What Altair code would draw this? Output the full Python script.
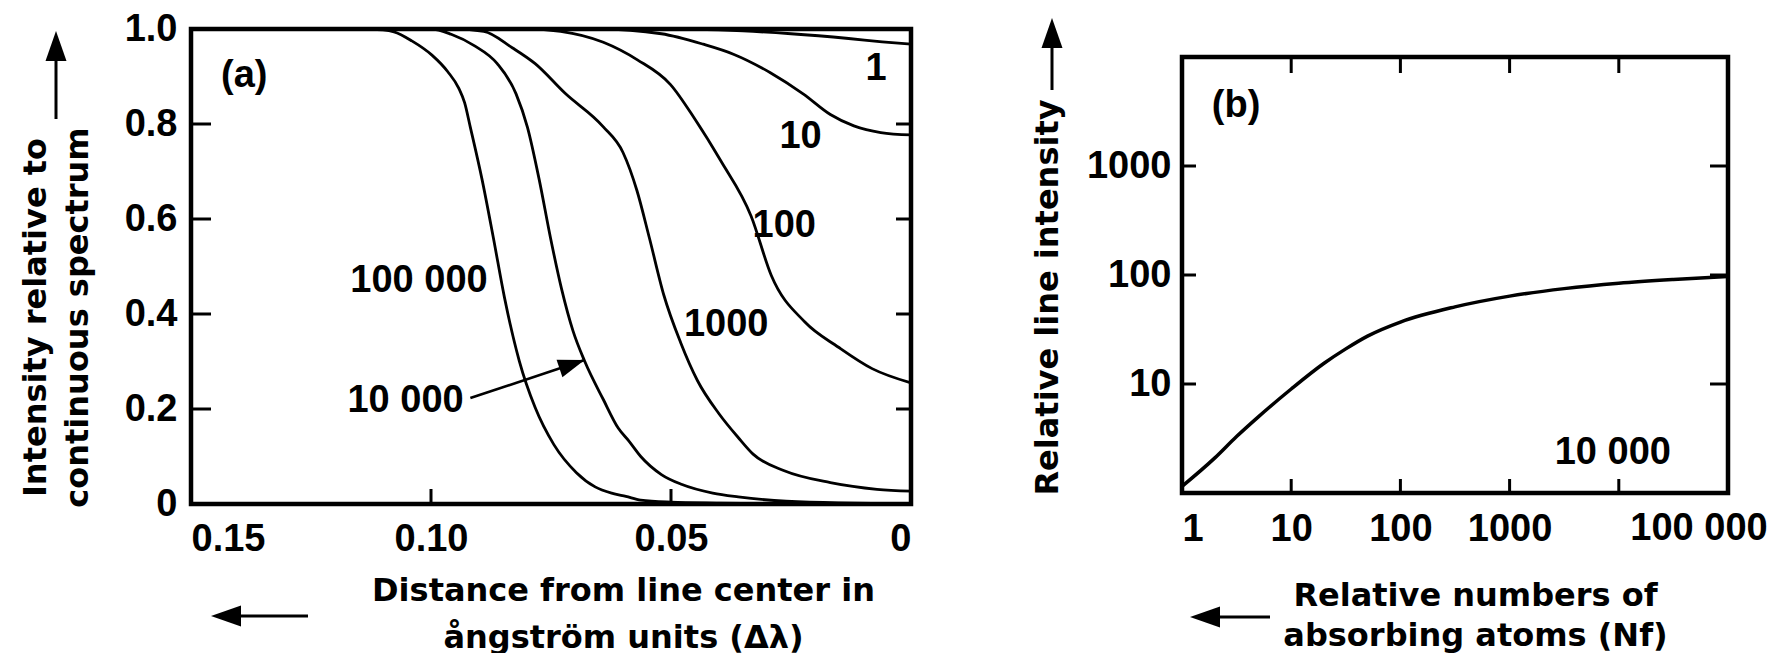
import altair as alt
import pandas as pd

# ---------------- data: panel (a) ----------------
dl_1 = [0.150, 0.060, 0.045, 0.035, 0.025, 0.013, 0.006, 0.0]
in_1 = [1.0, 1.0, 0.999, 0.996, 0.99, 0.98, 0.973, 0.968]

dl_10 = [0.150, 0.065, 0.052, 0.0433, 0.037, 0.0293, 0.0224, 0.0168, 0.0119, 0.0063, 0.0]
in_10 = [1.0, 1.0, 0.99, 0.968, 0.947, 0.908, 0.863, 0.820, 0.796, 0.782, 0.777]

dl_100 = [0.150, 0.080, 0.073, 0.0641, 0.057, 0.0501, 0.045, 0.0396, 0.0333, 0.0291, 0.0221, 0.0151, 0.0081, 0.0]
in_100 = [1.0, 1.0, 0.995, 0.972, 0.935, 0.883, 0.81, 0.722, 0.606, 0.481, 0.383, 0.330, 0.285, 0.255]

dl_1000 = [0.150, 0.095, 0.089, 0.083, 0.0783, 0.072, 0.0641, 0.060, 0.0571, 0.0545, 0.0515, 0.048,
           0.0445, 0.040, 0.036, 0.0329, 0.0264, 0.0168, 0.0071, 0.0]
in_1000 = [1.0, 1.0, 0.995, 0.96, 0.927, 0.864, 0.794, 0.74, 0.66, 0.56, 0.44, 0.34,
           0.26, 0.19, 0.14, 0.105, 0.07, 0.045, 0.031, 0.027]

dl_10000 = [0.150, 0.100, 0.0958, 0.0910, 0.0862, 0.0823, 0.0799, 0.0775, 0.0751, 0.0728, 0.0704,
            0.0680, 0.0641, 0.0610, 0.0588, 0.0563, 0.0520, 0.0477, 0.0413, 0.0360, 0.0260, 0.0]
in_10000 = [1.0, 1.0, 0.989, 0.965, 0.927, 0.864, 0.793, 0.685, 0.56, 0.453, 0.364,
            0.301, 0.22, 0.16, 0.133, 0.10, 0.062, 0.041, 0.023, 0.015, 0.006, 0.0]

dl_100000 = [0.150, 0.115, 0.110, 0.1077, 0.1040, 0.0998, 0.0965, 0.0942, 0.0930, 0.0918, 0.0894,
             0.0870, 0.0847, 0.0816, 0.0783, 0.0744, 0.0697, 0.0658, 0.0620, 0.0594, 0.0563,
             0.050, 0.040, 0.020, 0.0]
in_100000 = [1.0, 1.0, 0.998, 0.994, 0.975, 0.945, 0.91, 0.875, 0.845, 0.793, 0.685,
             0.56, 0.435, 0.301, 0.203, 0.125, 0.066, 0.036, 0.022, 0.016, 0.008,
             0.004, 0.002, 0.0, 0.0]

a_curve_names = ["1", "10", "100", "1000", "10000", "100000"]
a_curve_x = [dl_1, dl_10, dl_100, dl_1000, dl_10000, dl_100000]
a_curve_y = [in_1, in_10, in_100, in_1000, in_10000, in_100000]

a_label_text = ["(a)", "1", "10", "100", "1000", "100 000", "10 000"]
a_label_x = [0.1389, 0.0073, 0.0230, 0.0264, 0.0385, 0.1025, 0.1053]
a_label_y = [0.901, 0.916, 0.773, 0.586, 0.377, 0.469, 0.217]

a_arrow_from = (0.0918, 0.223)
a_arrow_to = (0.0680, 0.303)

a_x_domain = [0.0, 0.15]
a_y_domain = [0.0, 1.0]
a_x_ticks = [0.15, 0.10, 0.05, 0.0]
a_y_ticks = [0.0, 0.2, 0.4, 0.6, 0.8, 1.0]
a_inner_y_ticks = [0.2, 0.4, 0.6, 0.8]
a_inner_x_ticks = [0.10, 0.05]

# ---------------- data: panel (b) ----------------
b_nf = [1, 2, 3.16, 5, 10, 20, 31.6, 50, 100, 316, 1000, 3162, 10000, 31623, 100000]
b_int = [1.15, 2.1, 3.3, 5.0, 9.0, 15.5, 21, 27.5, 37, 51, 64, 75, 84, 91, 97]

b_label_text = ["(b)", "10 000"]
b_label_x = [3.13, 8810]
b_label_y = [3550, 2.33]

b_x_domain = [1, 100000]
b_y_domain = [1, 10000]
b_x_ticks = [1, 10, 100, 1000]
b_x_last_tick = [100000]
b_x_last_label = ["100 000"]
b_y_ticks = [10, 100, 1000]
b_inner_x_ticks = [10, 100, 1000, 10000]
b_inner_y_ticks = [10, 100, 1000]

# ---------------- style ----------------
W_A, H_A = 720, 475
W_B, H_B = 546, 436
B_DROP = 28                       # panel (b) frame starts this many px below panel (a)'s
H_B_AREA = H_B + B_DROP
B_Y_TOP = 10 ** (4 + B_DROP / (H_B / 4))   # scale top so that 1..10000 fills the frame
LABEL_FONT = "Liberation Sans"
TITLE_FONT = "DejaVu Sans"
LSIZE = 38
HEAD = "M0,0L0.7,2L-0.7,2Z"
FRAME_W = 4.5

# ---------------- panel (a) ----------------
rows = []
for name, xs, ys in zip(a_curve_names, a_curve_x, a_curve_y):
    for xv, yv in zip(xs, ys):
        rows.append({"x": xv, "y": yv, "curve": name})
df_a = pd.DataFrame(rows)

axis_xa = alt.Axis(values=a_x_ticks,
                   labelExpr="datum.value == 0 ? '0' : format(datum.value, '.2f')",
                   title=["Distance from line center in", "ångström units (Δλ)"],
                   titleX=432, titleY=86, titleAlign="center", titleBaseline="middle",
                   titleLineHeight=47, labelPadding=16, ticks=False, tickSize=0,
                   domain=False, grid=False)
axis_ya = alt.Axis(values=a_y_ticks,
                   labelExpr="datum.value == 0 ? '0' : format(datum.value, '.1f')",
                   title=["Intensity relative to", "continuous spectrum"],
                   titleX=-156, titleY=288, titleAngle=270, titleAlign="center",
                   titleBaseline="middle", titleLineHeight=42, labelPadding=14,
                   ticks=False, tickSize=0, domain=False, grid=False)

xa = alt.X("x:Q", scale=alt.Scale(domain=a_x_domain, reverse=True, nice=False, zero=False), axis=axis_xa)
ya = alt.Y("y:Q", scale=alt.Scale(domain=a_y_domain, nice=False), axis=axis_ya)

frame_a = alt.Chart(pd.DataFrame({"x": [a_x_domain[1]], "x2": [a_x_domain[0]],
                                  "y": [a_y_domain[0]], "y2": [a_y_domain[1]]})).mark_rect(
    fill="transparent", stroke="black", strokeWidth=FRAME_W).encode(x=xa, x2="x2:Q", y=ya, y2="y2:Q")

lines_a = alt.Chart(df_a).mark_line(color="black", strokeWidth=2.8, interpolate="monotone").encode(
    x=xa, y=ya, detail="curve:N")

labels_a = alt.Chart(pd.DataFrame({"x": a_label_x, "y": a_label_y, "t": a_label_text})).mark_text(
    font=LABEL_FONT, fontWeight="bold", fontSize=LSIZE, align="center", baseline="middle",
    color="black").encode(x=xa, y=ya, text="t:N")

arrow_a = alt.Chart(pd.DataFrame({"x": [a_arrow_from[0]], "y": [a_arrow_from[1]],
                                  "x2": [a_arrow_to[0]], "y2": [a_arrow_to[1]]})).mark_rule(
    color="black", strokeWidth=2.6).encode(x=xa, y=ya, x2="x2:Q", y2="y2:Q")
arrow_a_head = alt.Chart(pd.DataFrame({"x": [a_arrow_to[0]], "y": [a_arrow_to[1]]})).mark_point(
    shape=HEAD, filled=True, size=700, angle=71.6, color="black", opacity=1).encode(x=xa, y=ya)

tick_left_a = alt.Chart(pd.DataFrame({"y": a_inner_y_ticks})).mark_rule(color="black", strokeWidth=3).encode(
    y=ya, x=alt.value(0), x2=alt.value(20))
tick_right_a = alt.Chart(pd.DataFrame({"y": a_inner_y_ticks})).mark_rule(color="black", strokeWidth=3).encode(
    y=ya, x=alt.value(W_A), x2=alt.value(W_A - 15))
tick_bot_a = alt.Chart(pd.DataFrame({"x": a_inner_x_ticks})).mark_rule(color="black", strokeWidth=3).encode(
    x=xa, y=alt.value(H_A), y2=alt.value(H_A - 15))

yarrow_a = alt.Chart(pd.DataFrame({"k": [0]})).mark_rule(color="black", strokeWidth=3).encode(
    x=alt.value(-135), y=alt.value(10), y2=alt.value(90))
yarrow_a_head = alt.Chart(pd.DataFrame({"k": [0]})).mark_point(
    shape=HEAD, filled=True, size=900, angle=0, color="black", opacity=1).encode(
    x=alt.value(-135), y=alt.value(2))
xarrow_a = alt.Chart(pd.DataFrame({"k": [0]})).mark_rule(color="black", strokeWidth=3).encode(
    y=alt.value(587), x=alt.value(28), x2=alt.value(117))
xarrow_a_head = alt.Chart(pd.DataFrame({"k": [0]})).mark_point(
    shape=HEAD, filled=True, size=900, angle=270, color="black", opacity=1).encode(
    x=alt.value(20), y=alt.value(587))

anchor_a = alt.Chart(pd.DataFrame({"k": [0]})).mark_rule(color="white", strokeWidth=1).encode(
    x=alt.value(-190), x2=alt.value(W_A + 20), y=alt.value(-28))

panel_a = alt.layer(anchor_a, lines_a, frame_a, tick_left_a, tick_right_a, tick_bot_a, labels_a, arrow_a,
                    arrow_a_head, yarrow_a, yarrow_a_head, xarrow_a, xarrow_a_head).properties(
    width=W_A, height=H_A)

# ---------------- panel (b) ----------------
axis_xb = alt.Axis(values=b_x_ticks, format="d",
                   title=["Relative numbers of", "absorbing atoms (Nf)"],
                   titleX=293, titleY=102, titleAlign="center", titleBaseline="middle",
                   titleLineHeight=40, labelPadding=17, ticks=False, tickSize=0,
                   domain=False, grid=False)
axis_yb = alt.Axis(values=b_y_ticks, format="d", title="Relative line intensity",
                   titleX=-135, titleY=240 + B_DROP, titleAngle=270, titleAlign="center",
                   titleBaseline="middle", labelPadding=11, ticks=False, tickSize=0,
                   domain=False, grid=False)

xb = alt.X("x:Q", scale=alt.Scale(type="log", domain=b_x_domain, nice=False), axis=axis_xb)
yb = alt.Y("y:Q", scale=alt.Scale(type="log", domain=[b_y_domain[0], B_Y_TOP], nice=False), axis=axis_yb)

frame_b = alt.Chart(pd.DataFrame({"x": [b_x_domain[0]], "x2": [b_x_domain[1]],
                                  "y": [b_y_domain[0]], "y2": [b_y_domain[1]]})).mark_rect(
    fill="transparent", stroke="black", strokeWidth=FRAME_W).encode(x=xb, x2="x2:Q", y=yb, y2="y2:Q")

line_b = alt.Chart(pd.DataFrame({"x": b_nf, "y": b_int})).mark_line(
    color="black", strokeWidth=3.5, interpolate="monotone").encode(x=xb, y=yb)

labels_b = alt.Chart(pd.DataFrame({"x": b_label_x, "y": b_label_y, "t": b_label_text})).mark_text(
    font=LABEL_FONT, fontWeight="bold", fontSize=LSIZE, align="center", baseline="middle",
    color="black").encode(x=xb, y=yb, text="t:N")

last_label_b = alt.Chart(pd.DataFrame({"x": b_x_last_tick, "t": b_x_last_label})).mark_text(
    font=LABEL_FONT, fontWeight="bold", fontSize=LSIZE, align="center", baseline="top",
    color="black", dx=-29).encode(x=xb, y=alt.value(H_B_AREA + 17), text="t:N")

tick_left_b = alt.Chart(pd.DataFrame({"y": b_inner_y_ticks})).mark_rule(color="black", strokeWidth=3).encode(
    y=yb, x=alt.value(0), x2=alt.value(14))
tick_right_b = alt.Chart(pd.DataFrame({"y": b_inner_y_ticks})).mark_rule(color="black", strokeWidth=3).encode(
    y=yb, x=alt.value(W_B), x2=alt.value(W_B - 18))
tick_bot_b = alt.Chart(pd.DataFrame({"x": b_inner_x_ticks})).mark_rule(color="black", strokeWidth=3).encode(
    x=xb, y=alt.value(H_B_AREA), y2=alt.value(H_B_AREA - 14))
tick_top_b = alt.Chart(pd.DataFrame({"x": b_inner_x_ticks})).mark_rule(color="black", strokeWidth=3).encode(
    x=xb, y=alt.value(B_DROP), y2=alt.value(B_DROP + 16))

yarrow_b = alt.Chart(pd.DataFrame({"k": [0]})).mark_rule(color="black", strokeWidth=3).encode(
    x=alt.value(-130), y=alt.value(-3), y2=alt.value(61))
yarrow_b_head = alt.Chart(pd.DataFrame({"k": [0]})).mark_point(
    shape=HEAD, filled=True, size=900, angle=0, color="black", opacity=1).encode(
    x=alt.value(-130), y=alt.value(-11))
xarrow_b = alt.Chart(pd.DataFrame({"k": [0]})).mark_rule(color="black", strokeWidth=3).encode(
    y=alt.value(588), x=alt.value(16), x2=alt.value(88))
xarrow_b_head = alt.Chart(pd.DataFrame({"k": [0]})).mark_point(
    shape=HEAD, filled=True, size=900, angle=270, color="black", opacity=1).encode(
    x=alt.value(8), y=alt.value(588))

anchor_b = alt.Chart(pd.DataFrame({"k": [0]})).mark_rule(color="white", strokeWidth=1).encode(
    x=alt.value(-232), x2=alt.value(-231), y=alt.value(B_DROP))

panel_b = alt.layer(anchor_b, line_b, frame_b, tick_left_b, tick_right_b, tick_bot_b, tick_top_b, labels_b,
                    last_label_b, yarrow_b, yarrow_b_head, xarrow_b, xarrow_b_head).properties(
    width=W_B, height=H_B_AREA)

chart = alt.hconcat(panel_a, panel_b, spacing=17).properties(
    padding=0, background="white"
).configure_view(
    stroke="transparent", strokeWidth=0
).configure_axis(
    labelFont=LABEL_FONT, labelFontSize=LSIZE, labelFontWeight="bold", labelColor="black",
    titleFont=TITLE_FONT, titleFontSize=32, titleFontWeight="bold", titleColor="black"
)

chart.save("out.html", embed_options={"renderer": "svg", "actions": False})
